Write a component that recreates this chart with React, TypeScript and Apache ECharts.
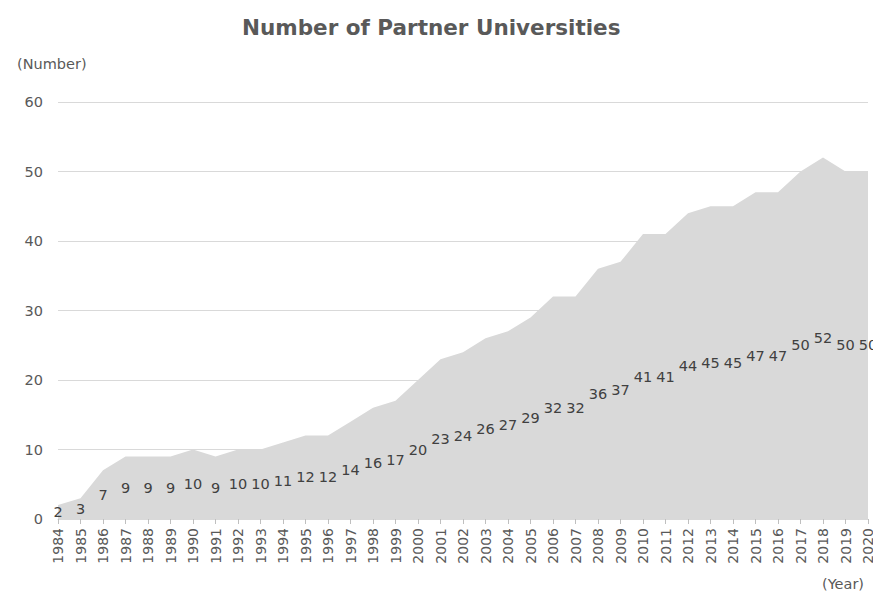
import React, { useEffect, useRef } from "react";
import * as echarts from "echarts";

const years = [
  "1984", "1985", "1986", "1987", "1988", "1989", "1990", "1991", "1992", "1993",
  "1994", "1995", "1996", "1997", "1998", "1999", "2000", "2001", "2002", "2003",
  "2004", "2005", "2006", "2007", "2008", "2009", "2010", "2011", "2012", "2013",
  "2014", "2015", "2016", "2017", "2018", "2019", "2020",
];
const partners = [
  2, 3, 7, 9, 9, 9, 10, 9, 10, 10,
  11, 12, 12, 14, 16, 17, 20, 23, 24, 26,
  27, 29, 32, 32, 36, 37, 41, 41, 44, 45,
  45, 47, 47, 50, 52, 50, 50,
];
const yTicks = [0, 10, 20, 30, 40, 50, 60];

const FONT = "'DejaVu Sans', Verdana, sans-serif";

export default function App() {
  const ref = useRef<HTMLDivElement>(null);
  useEffect(() => {
    if (!ref.current) return;
    const chart = echarts.init(ref.current, undefined, { renderer: "svg" });
    chart.setOption({
      animation: false,
      backgroundColor: "#ffffff",
      title: {
        text: "Number of Partner Universities",
        left: 237,
        top: 11,
        textStyle: { fontFamily: FONT, fontSize: 21.5, fontWeight: "bold", color: "#595959" },
      },
      graphic: [
        {
          type: "text",
          left: 17,
          top: 56,
          style: { text: "(Number)", fontFamily: FONT, fontSize: 14.5, fill: "#595959" },
        },
        {
          type: "text",
          left: 822,
          top: 576,
          style: { text: "(Year)", fontFamily: FONT, fontSize: 14.5, fill: "#595959" },
        },
      ],
      grid: { left: 58, right: 13, top: 102, bottom: 86, containLabel: false },
      xAxis: {
        type: "category",
        data: years,
        boundaryGap: false,
        axisLine: { show: true, lineStyle: { color: "#d9d9d9", width: 1 } },
        axisTick: { show: true, alignWithLabel: true, length: 5, lineStyle: { color: "#bfbfbf" } },
        axisLabel: {
          rotate: 90,
          interval: 0,
          margin: 9,
          fontFamily: FONT,
          fontSize: 14,
          color: "#595959",
        },
      },
      yAxis: {
        type: "value",
        min: yTicks[0],
        max: yTicks[yTicks.length - 1],
        interval: 10,
        axisLine: { show: false },
        axisTick: { show: false },
        splitLine: { lineStyle: { color: "#d9d9d9", width: 1 } },
        axisLabel: { margin: 15, fontFamily: FONT, fontSize: 14.5, color: "#595959" },
      },
      series: [
        {
          type: "line",
          data: partners,
          symbol: "none",
          lineStyle: { width: 0, color: "#d9d9d9" },
          areaStyle: { color: "#d9d9d9", opacity: 1 },
          z: 1,
        },
        {
          type: "line",
          data: partners.map((v) => v / 2),
          symbol: "circle",
          symbolSize: 1,
          showSymbol: true,
          itemStyle: { color: "rgba(0,0,0,0)" },
          lineStyle: { width: 0, color: "rgba(0,0,0,0)" },
          silent: true,
          z: 3,
          label: {
            show: true,
            position: "inside",
            offset: [0, 2],
            formatter: (p: any) => String(partners[p.dataIndex]),
            fontFamily: FONT,
            fontSize: 14.5,
            color: "#404040",
          },
          labelLayout: { hideOverlap: false },
        },
      ],
    });
    return () => chart.dispose();
  }, []);
  return <div ref={ref} style={{ width: 881, height: 605, margin: -8 }} />;
}
